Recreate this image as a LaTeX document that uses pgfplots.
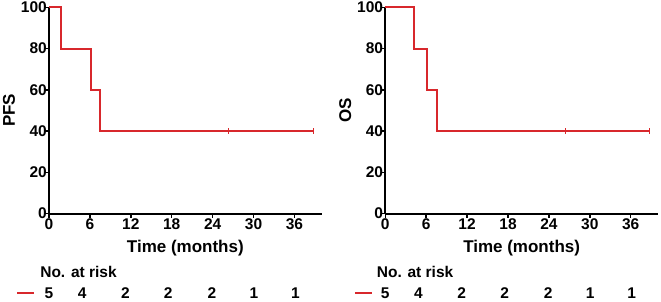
\documentclass[border=0pt]{standalone}
\usepackage{fontspec}
\setmainfont{Liberation Sans}
\usepackage{pgfplots}
\pgfplotsset{compat=1.18}
\definecolor{kmred}{RGB}{216,40,44}
\pgfplotsset{
  kmaxis/.style={
    scale only axis,
    width=272.7pt, height=206.2pt,
    anchor=south west,
    xmin=0, xmax=40, ymin=0, ymax=100,
    xtick={0,6,...,36}, ytick={0,20,...,100},
    axis x line*=bottom, axis y line*=left,
    axis line style={line width=2pt, black},
    tick style={line width=1.5pt, black},
    major tick length=4pt,
    tick align=outside,
    clip=false,
    /pgf/number format/assume math mode=true,
    every tick label/.append style={font=\fontsize{15.5}{15.5}\selectfont\bfseries},
    xticklabel style={inner sep=1pt},
    yticklabel style={inner sep=1pt, xshift=3pt},
    label style={font=\fontsize{17}{17}\selectfont\bfseries},
    xlabel={Time (months)},
    xlabel style={at={(axis description cs:0.5,-0.167)}, anchor=center},
    ylabel style={at={(axis description cs:-0.147,0.5)}, anchor=center},
  },
  riskrow/.style={only marks, mark=none, nodes near coords, point meta=explicit symbolic,
    every node near coord/.append style={anchor=center, inner sep=0pt, font=\fontsize{15.5}{15.5}\selectfont\bfseries}},
}
\begin{document}
\begin{tikzpicture}
\useasboundingbox (0,0) rectangle (661pt,-301pt);
% ---------- PFS ----------
\begin{axis}[kmaxis, at={(49pt,-213.5pt)}, ylabel={PFS}]
\addplot[kmred, line width=2pt] coordinates {
(0,100) (1.7,100) (1.7,80) (6.1,80) (6.1,60) (7.5,60) (7.5,40) (38.8,40)};
\addplot[kmred, only marks, mark=|, mark size=3pt, mark options={line width=1pt}] coordinates {(26.4,40) (38.8,40)};
\addplot[kmred, line width=2pt] coordinates {(-4.65,-38.7) (-2.15,-38.7)};
\addplot[riskrow] coordinates {(0,-38.7)[5] (4.85,-38.7)[4] (11.2,-38.7)[2] (17.5,-38.7)[2] (23.9,-38.7)[2] (30.05,-38.7)[1] (36.15,-38.7)[1]};
\node[anchor=west, inner sep=0pt, font=\fontsize{15.5}{15.5}\selectfont\bfseries] at (axis cs:-1.3,-28.5) {No. at risk};
\end{axis}
% ---------- OS ----------
\begin{axis}[kmaxis, at={(385.3pt,-213.5pt)}, ylabel={OS}]
\addplot[kmred, line width=2pt] coordinates {
(0,100) (4.2,100) (4.2,80) (6.15,80) (6.15,60) (7.55,60) (7.55,40) (38.8,40)};
\addplot[kmred, only marks, mark=|, mark size=3pt, mark options={line width=1pt}] coordinates {(26.4,40) (38.8,40)};
\addplot[kmred, line width=2pt] coordinates {(-4.45,-38.7) (-2.0,-38.7)};
\addplot[riskrow] coordinates {(0,-38.7)[5] (4.85,-38.7)[4] (11.2,-38.7)[2] (17.5,-38.7)[2] (23.9,-38.7)[2] (30.05,-38.7)[1] (36.15,-38.7)[1]};
\node[anchor=west, inner sep=0pt, font=\fontsize{15.5}{15.5}\selectfont\bfseries] at (axis cs:-1.26,-28.5) {No. at risk};
\end{axis}
\end{tikzpicture}
\end{document}
